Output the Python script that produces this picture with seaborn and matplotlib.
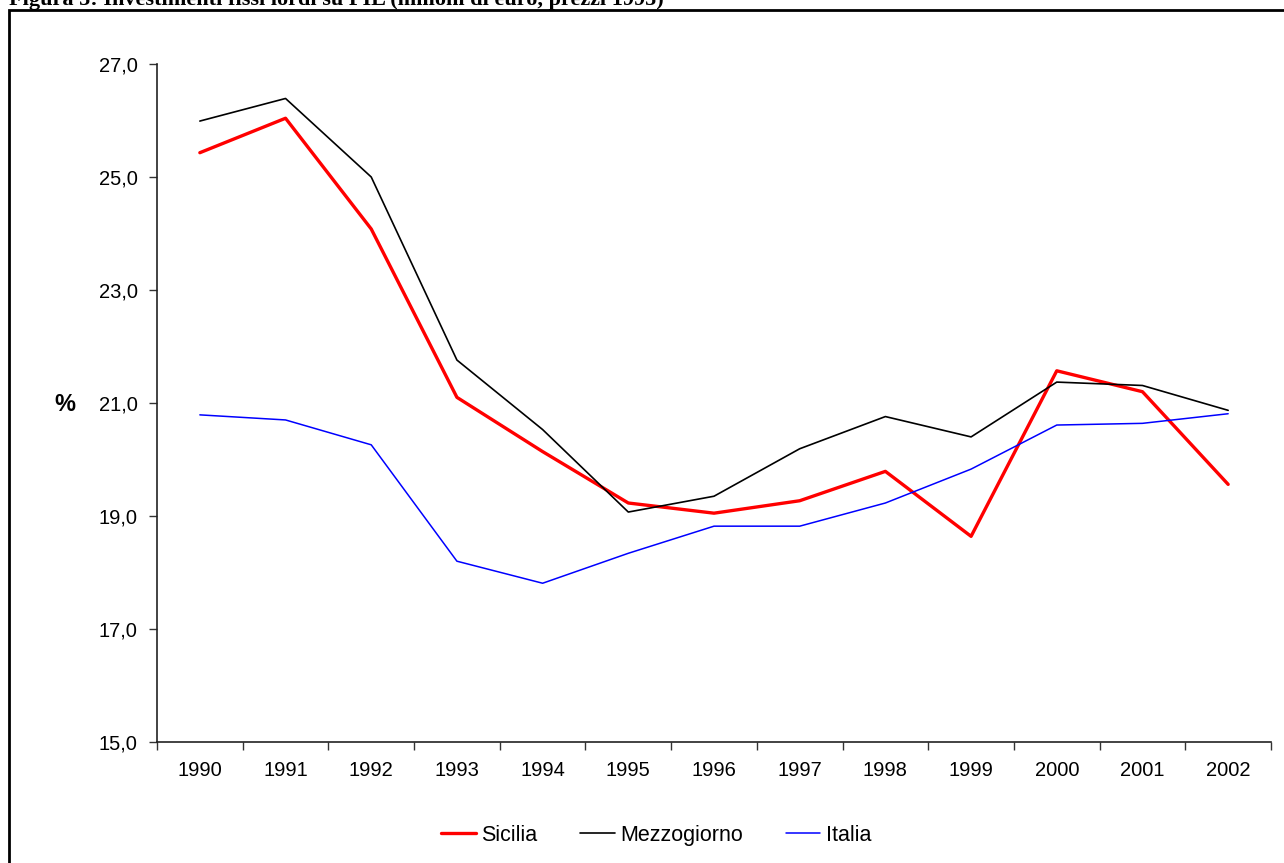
import pandas as pd
import seaborn as sns
import matplotlib.pyplot as plt
from matplotlib.patches import Rectangle
from matplotlib.lines import Line2D

anni = [1990, 1991, 1992, 1993, 1994, 1995, 1996, 1997, 1998, 1999, 2000, 2001, 2002]
sicilia = [25.43, 26.04, 24.08, 21.10, 20.14, 19.23, 19.05, 19.27, 19.79, 18.64, 21.57, 21.20, 19.56]
mezzogiorno = [25.99, 26.39, 25.00, 21.76, 20.53, 19.07, 19.35, 20.19, 20.76, 20.40, 21.37, 21.31, 20.87]
italia = [20.79, 20.70, 20.26, 18.20, 17.81, 18.34, 18.82, 18.82, 19.23, 19.83, 20.61, 20.64, 20.81]

serie = ['Sicilia', 'Mezzogiorno', 'Italia']
colori = ['#ff0000', '#000000', '#0000ff']
spessori = [2.4, 1.2, 1.1]

df = pd.DataFrame({'pos': list(range(len(anni))) * 3,
                   'valore': sicilia + mezzogiorno + italia,
                   'serie': [s for s in serie for _ in anni]})

sns.set_style('white')
plt.rcParams['font.family'] = ['Liberation Sans', 'DejaVu Sans']
plt.rcParams['text.color'] = 'black'
plt.rcParams['xtick.color'] = 'black'
plt.rcParams['ytick.color'] = 'black'

fig = plt.figure(figsize=(12.84, 8.63), dpi=100)
ax = fig.add_axes([157 / 1284, 1 - 742 / 863, (1271 - 157) / 1284, (742 - 64) / 863])

for s, c, lw in zip(serie, colori, spessori):
    sns.lineplot(data=df[df.serie == s], x='pos', y='valore', color=c, linewidth=lw, ax=ax, legend=False)

ax.set_xlim(-0.5, len(anni) - 0.5)
ax.set_ylim(15, 27)
ax.set_yticks([15, 17, 19, 21, 23, 25, 27])
ax.set_yticklabels(['15,0', '17,0', '19,0', '21,0', '23,0', '25,0', '27,0'], fontsize=14.5)
ax.set_xticks(range(len(anni)))
ax.set_xticklabels([str(a) for a in anni], fontsize=14.5)
ax.set_xticks([i - 0.5 for i in range(len(anni) + 1)], minor=True)
ax.tick_params(axis='x', which='major', bottom=True, length=0, pad=14)
ax.tick_params(axis='x', which='minor', bottom=True, length=6, width=1, direction='out', color='#333333')
ax.tick_params(axis='y', left=True, length=6, width=1, direction='out', pad=8, color='#333333')
ax.set_xlabel('')
ax.set_ylabel('')
for lato in ['top', 'right']:
    ax.spines[lato].set_visible(False)
for lato in ['left', 'bottom']:
    ax.spines[lato].set_color('#222222')
    ax.spines[lato].set_linewidth(1.2)

fig.text(65 / 1284, 1 - 404 / 863, '%', fontsize=17, fontweight='bold', ha='center', va='center')

maniglie = [Line2D([], [], color=c, linewidth=lw) for c, lw in zip(colori, spessori)]
fig.legend(maniglie, serie, loc='center', bbox_to_anchor=(656 / 1284, 1 - 835 / 863), ncol=3,
           frameon=False, fontsize=15.5, handlelength=1.6, handletextpad=0.25, columnspacing=2.0)

fig.patches.append(Rectangle((9 / 1284, -0.05), 1.1, 1 - 10 / 863 + 0.05, transform=fig.transFigure,
                             fill=False, edgecolor='black', linewidth=2, clip_on=False))
fig.text(9 / 1284, 1 - 5 / 863, 'Figura 5: Investimenti fissi lordi su PIL (milioni di euro, prezzi 1995)',
         family='Liberation Serif', fontweight='bold', fontsize=16, ha='left', va='baseline')

fig.savefig('out.png', dpi=100, facecolor='white')
